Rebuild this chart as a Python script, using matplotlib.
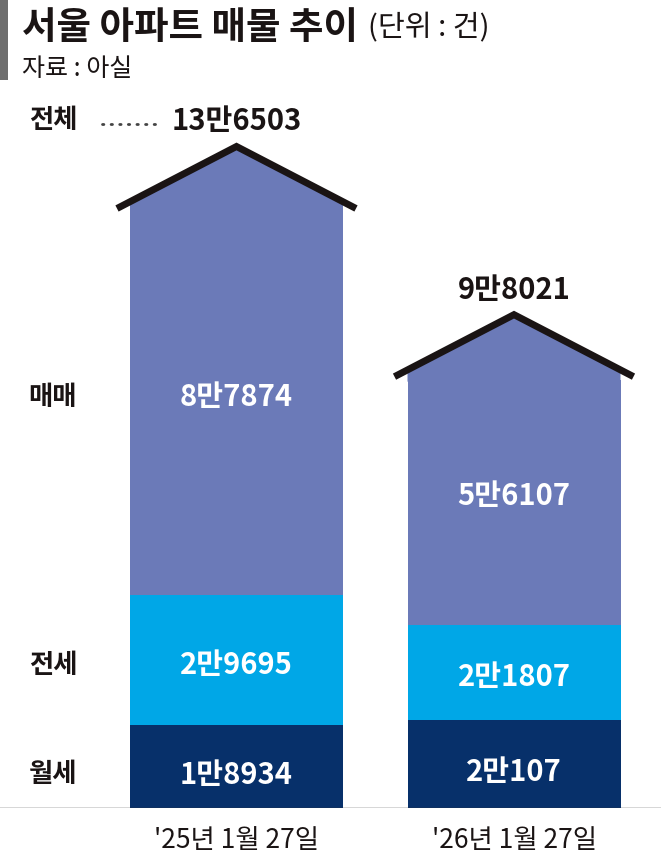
import matplotlib
matplotlib.use("Agg")
import matplotlib.pyplot as plt
from matplotlib.patches import Polygon, Rectangle

plt.rcParams['font.family'] = ['Noto Sans CJK KR', 'DejaVu Sans']

dates = ["'25년 1월 27일", "'26년 1월 27일"]
series = ["월세", "전세", "매매"]
wolse = [18934, 20107]
jeonse = [29695, 21807]
maemae = [87874, 56107]
totals = [136503, 98021]
wolse_lbl = ["1만8934", "2만107"]
jeonse_lbl = ["2만9695", "2만1807"]
maemae_lbl = ["8만7874", "5만6107"]
total_lbl = ["13만6503", "9만8021"]

colors = {"월세": "#07306A", "전세": "#00A7E7", "매매": "#6B7AB8"}
ink = '#1a1414'

W, H = 661, 859
fig = plt.figure(figsize=(W / 100, H / 100), dpi=100)
base_px = 808
ax = fig.add_axes([0, (H - base_px) / H, 1, base_px / H])
px_per_unit_y = 4.37 / 1000
unit_y = 1 / px_per_unit_y
ax.set_ylim(0, base_px * unit_y)
xpx = 277.5
x0 = -236.5 / xpx
ax.set_xlim(x0, (W - 236.5) / xpx)
ax.axis('off')

x = [0, 1]
width = 213 / xpx
label_shift = {"매매": 6, "전세": -5, "월세": -8}  # px, positive = up
layers = [(wolse, "월세", wolse_lbl), (jeonse, "전세", jeonse_lbl), (maemae, "매매", maemae_lbl)]
bottoms = [0, 0]
centers = {}
for vals, name, lbls in layers:
    ax.bar(x, vals, width=width, bottom=bottoms, color=colors[name], edgecolor='none', linewidth=0)
    centers[name] = [b + v / 2 + label_shift[name] * unit_y for b, v in zip(bottoms, vals)]
    for xi, cy, l in zip(x, centers[name], lbls):
        ax.text(xi, cy, l, color='white', fontsize=21, fontweight='heavy',
                ha='center', va='center')
    bottoms = [b + v for b, v in zip(bottoms, vals)]

# roofs
for xi, t, lbl in zip(x, totals, total_lbl):
    left = xi - width / 2
    right = xi + width / 2
    over = 13 / xpx
    rise_end = 3 * unit_y
    peak = t + 65 * unit_y
    half = width / 2 + over
    edge_y = t + rise_end + (peak - t - rise_end) * (over / half)
    ax.add_patch(Polygon([(left, t - 2 * unit_y), (left, edge_y), (xi, peak), (right, edge_y),
                          (right, t - 2 * unit_y)],
                         closed=True, facecolor=colors["매매"], edgecolor='none'))
    ax.plot([left - over, xi, right + over], [t + rise_end, peak, t + rise_end],
            color=ink, lw=5, solid_joinstyle='miter', solid_capstyle='butt')
    ax.text(xi, peak + 25 * unit_y, lbl, fontsize=21, fontweight='heavy', color=ink,
            ha='center', va='center')

# baseline
ax.axhline(0, color='#333333', lw=1.0)

# row labels
for name in ["매매", "전세", "월세"]:
    ax.text(x0 + 53 / xpx, centers[name][0], name, fontsize=19, fontweight='heavy', color=ink,
            ha='center', va='center')

# total row
ax.text(x0 + 53 / xpx, totals[0] + 91 * unit_y, "전체", fontsize=19, fontweight='heavy',
        color=ink, ha='center', va='center')
ax.plot([x0 + 102 / xpx, x0 + 160 / xpx],
        [totals[0] + 87 * unit_y] * 2, color='#444444', lw=2, ls=(0, (0.5, 2.6)),
        dash_capstyle='round')

# x labels
for xi, d in zip(x, dates):
    fig.text((236.5 + xi * xpx) / W, 1 - 840 / H, d, fontsize=19, color=ink,
             ha='center', va='center')

# title block
fig.patches.append(Rectangle((0, 1 - 80 / H), 8 / W, 80 / H, transform=fig.transFigure,
                             facecolor='#6e6e6e', edgecolor='none'))
fig.text(22 / W, 1 - 28 / H, "서울 아파트 매물 추이", fontsize=27, fontweight='heavy',
         color=ink, ha='left', va='center')
fig.text(368 / W, 1 - 28 / H, "(단위 : 건)", fontsize=21, color=ink,
         ha='left', va='center')
fig.text(22 / W, 1 - 69 / H, "자료 : 아실", fontsize=18, color=ink,
         ha='left', va='center')

fig.savefig("out.png", dpi=100)
